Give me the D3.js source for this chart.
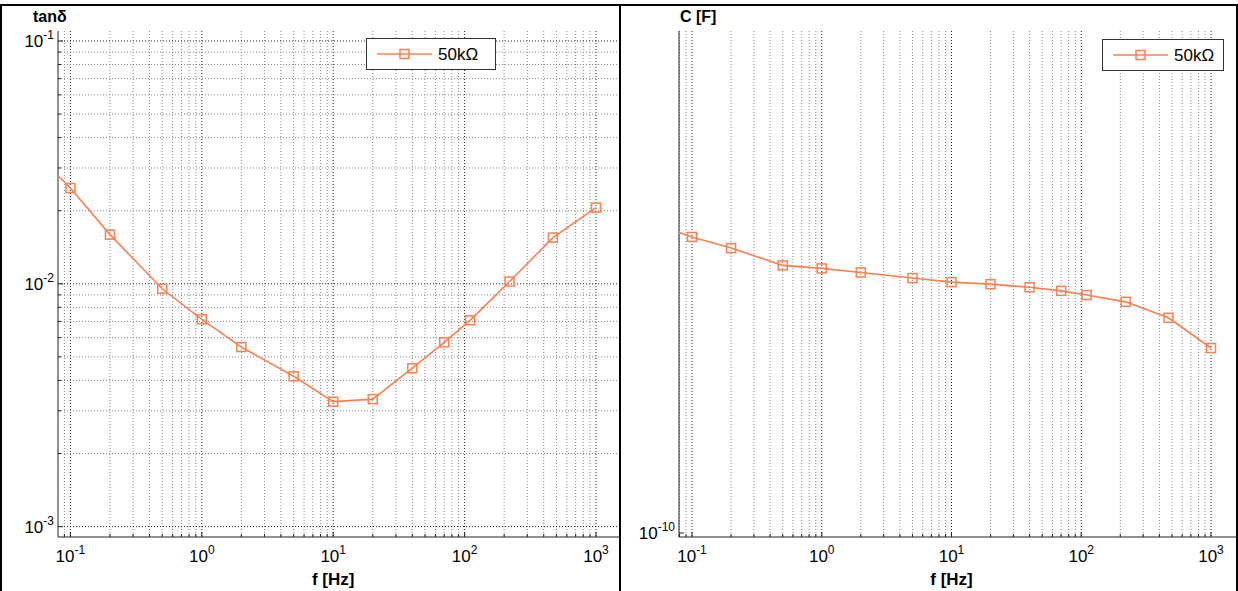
<!DOCTYPE html>
<html><head><meta charset="utf-8">
<script src="https://cdn.jsdelivr.net/npm/d3@7"></script>
<style>
body{margin:0;background:#fff}
text{font-family:Arial,"Liberation Sans",sans-serif;fill:#000}
</style>
</head><body>
<svg id="c" width="1238" height="591"></svg>
<script>
// ---------------- data ----------------
const freqs       = [0.05, 0.1, 0.2, 0.5, 1, 2, 5, 10, 20, 40, 70, 110, 220, 470, 1000];
const tanDelta    = [0.036, 0.0248, 0.01594, 0.00954, 0.00714, 0.00549, 0.00416, 0.00327, 0.00335, 0.00449, 0.00574, 0.00707, 0.01022, 0.0155, 0.0206];
const capacitance = [1.534e-10, 1.505e-10, 1.482e-10, 1.447e-10, 1.441e-10, 1.433e-10, 1.422e-10, 1.414e-10, 1.410e-10, 1.404e-10, 1.397e-10, 1.389e-10, 1.376e-10, 1.346e-10, 1.291e-10];
const seriesName  = "50k\u03A9";
const xTickExps   = [-1, 0, 1, 2, 3];
const tanTickExps = [-3, -2, -1];
const capTickExps = [-10];
const tanLabel = "tan\u03B4", capLabel = "C [F]", xLabel = "f [Hz]";

const svg = d3.select("#c");
const lineColor = "#ff7f50";

function minorVals(lo, hi){
  const out=[];
  for(let e=Math.floor(Math.log10(lo))-1;e<=Math.ceil(Math.log10(hi))+1;e++)
    for(let m=1;m<=9;m++){const v=m*Math.pow(10,e); if(v>=lo&&v<=hi) out.push(v);}
  return out;
}
function powLabel(g, x, y, exp, anchor){
  const t=g.append("text").attr("x",x).attr("y",y).attr("text-anchor",anchor).style("font-size","17px");
  t.append("tspan").text("10");
  t.append("tspan").attr("dy",-8).style("font-size","12px").text(exp);
}

function panel(cfg){
  const g=svg.append("g");
  const x=d3.scaleLog().domain([0.1,1000]).range(cfg.xRange);
  const y=d3.scaleLog().domain(cfg.yDomain).range(cfg.yRange);
  const [L,R,T,B]=[cfg.left,cfg.right,cfg.top,cfg.bottom];
  const xlo=x.invert(L), xhi=x.invert(R);
  const ylo=y.invert(B), yhi=y.invert(T);
  const clipId="clip"+cfg.id;
  svg.append("clipPath").attr("id",clipId).append("rect").attr("x",L).attr("y",T-6).attr("width",R-L).attr("height",B-T+6);

  const gridG=g.append("g");
  const xMinor=minorVals(xlo,xhi);
  xMinor.forEach(v=>{
    const major=Math.abs(Math.log10(v)-Math.round(Math.log10(v)))<1e-9;
    gridG.append("line").attr("x1",x(v)).attr("x2",x(v)).attr("y1",T).attr("y2",B)
      .attr("stroke",major?"#222":"#888").attr("stroke-width",1).attr("stroke-dasharray","1,2");
  });
  if(cfg.yGrid){
    minorVals(ylo,yhi).forEach(v=>{
      const major=Math.abs(Math.log10(v)-Math.round(Math.log10(v)))<1e-9;
      gridG.append("line").attr("x1",L).attr("x2",R).attr("y1",y(v)).attr("y2",y(v))
        .attr("stroke",major?"#222":"#888").attr("stroke-width",1).attr("stroke-dasharray","1,2");
    });
  }
  // axes
  g.append("line").attr("x1",L).attr("x2",R).attr("y1",B).attr("y2",B).attr("stroke","#222");
  g.append("line").attr("x1",L).attr("x2",L).attr("y1",T).attr("y2",B).attr("stroke","#222");
  xMinor.forEach(v=>{
    const major=Math.abs(Math.log10(v)-Math.round(Math.log10(v)))<1e-9;
    g.append("line").attr("x1",x(v)).attr("x2",x(v)).attr("y1",B).attr("y2",B-(major?5:3)).attr("stroke","#222");
  });
  if(cfg.yMinorTicks){
    minorVals(ylo,yhi).forEach(v=>{
      const major=Math.abs(Math.log10(v)-Math.round(Math.log10(v)))<1e-9;
      g.append("line").attr("x1",L).attr("x2",L+(major?5:3)).attr("y1",y(v)).attr("y2",y(v)).attr("stroke","#222");
    });
  } else {
    cfg.yTicks.forEach(e=>g.append("line").attr("x1",L).attr("x2",L+5).attr("y1",y(Math.pow(10,e))).attr("y2",y(Math.pow(10,e))).attr("stroke","#222"));
  }
  xTickExps.forEach(e=>powLabel(g, x(Math.pow(10,e)), B+25, String(e), "middle"));
  cfg.yTicks.forEach(e=>powLabel(g, L-4, y(Math.pow(10,e))+6, String(e), "end"));
  g.append("text").attr("x",(x(0.1)+x(1000))/2).attr("y",B+48).attr("text-anchor","middle")
    .style("font-size","17px").style("font-weight","bold").text(xLabel);
  g.append("text").attr("x",cfg.titleX).attr("y",22).style("font-size","16px").style("font-weight","bold").text(cfg.title);

  // series
  const pts=freqs.map((f,i)=>[f,cfg.values[i]]);
  const dg=g.append("g").attr("clip-path",`url(#${clipId})`);
  dg.append("path").attr("d",d3.line().x(d=>x(d[0])).y(d=>y(d[1]))(pts))
    .attr("fill","none").attr("stroke",lineColor).attr("stroke-width",1.6);
  dg.selectAll("rect.m").data(pts).join("rect").attr("class","m")
    .attr("x",d=>x(d[0])-4.5).attr("y",d=>y(d[1])-4.5).attr("width",9).attr("height",9)
    .attr("fill","none").attr("stroke",lineColor).attr("stroke-width",1.5);

  // legend
  const lg=g.append("g");
  const b=cfg.legend;
  lg.append("rect").attr("x",b.x+0.5).attr("y",b.y+0.5).attr("width",b.w).attr("height",b.h).attr("fill","#fff").attr("stroke","#333");
  const ly=b.y+b.h/2+0.5;
  lg.append("line").attr("x1",b.x+11).attr("x2",b.x+66).attr("y1",ly).attr("y2",ly).attr("stroke",lineColor).attr("stroke-width",1.6);
  lg.append("rect").attr("x",b.x+34).attr("y",ly-4.5).attr("width",9).attr("height",9).attr("fill","none").attr("stroke",lineColor).attr("stroke-width",1.5);
  lg.append("text").attr("x",b.x+72).attr("y",ly+6).style("font-size","17px").text(seriesName);
}

panel({id:"L", left:58, right:620, top:31, bottom:537, xRange:[70.4,596],
  yDomain:[0.1,0.001], yRange:[41,526.6], yGrid:true, yMinorTicks:true, yTicks:tanTickExps,
  values:tanDelta, title:tanLabel, titleX:33, legend:{x:366,y:38,w:129,h:31}});
panel({id:"R", left:679, right:1237, top:31, bottom:537, xRange:[692,1211],
  yDomain:[1e-10,2e-10], yRange:[533,31], yGrid:false, yMinorTicks:false, yTicks:capTickExps,
  values:capacitance, title:capLabel, titleX:680, legend:{x:1102,y:39,w:121,h:31}});

// frame lines
svg.append("line").attr("x1",0).attr("x2",1238).attr("y1",5).attr("y2",5).attr("stroke","#000").attr("stroke-width",2);
svg.append("line").attr("x1",1).attr("x2",1).attr("y1",4).attr("y2",591).attr("stroke","#000").attr("stroke-width",2);
svg.append("line").attr("x1",620).attr("x2",620).attr("y1",4).attr("y2",591).attr("stroke","#000").attr("stroke-width",2);
svg.append("line").attr("x1",1237).attr("x2",1237).attr("y1",4).attr("y2",591).attr("stroke","#000").attr("stroke-width",2);
</script>
</body></html>
